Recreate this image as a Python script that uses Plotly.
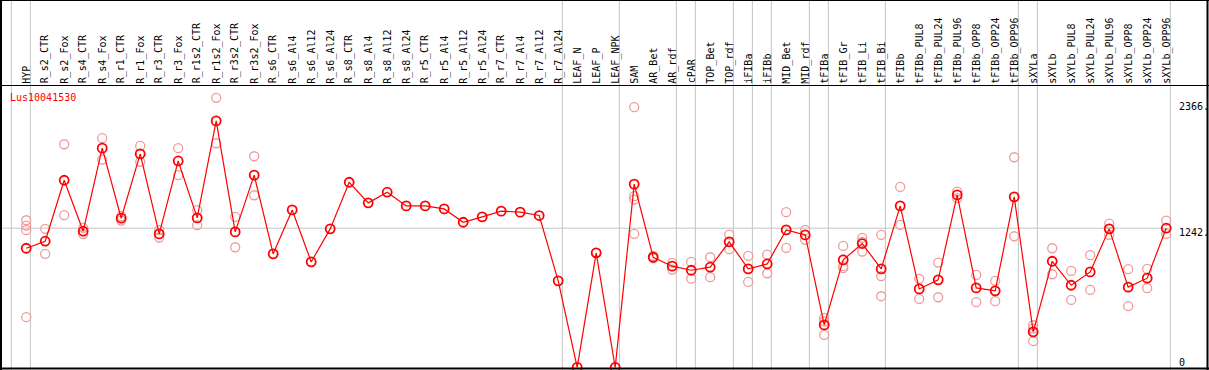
import plotly.graph_objects as go

# ---------------- data ----------------
categories = [
    "HYP", "R_s2_CTR", "R_s2_Fox", "R_s4_CTR", "R_s4_Fox", "R_r1_CTR", "R_r1_Fox",
    "R_r3_CTR", "R_r3_Fox", "R_r1s2_CTR", "R_r1s2_Fox", "R_r3s2_CTR", "R_r3s2_Fox",
    "R_s6_CTR", "R_s6_Al4", "R_s6_Al12", "R_s6_Al24", "R_s8_CTR", "R_s8_Al4",
    "R_s8_Al12", "R_s8_Al24", "R_r5_CTR", "R_r5_Al4", "R_r5_Al12", "R_r5_Al24",
    "R_r7_CTR", "R_r7_Al4", "R_r7_Al12", "R_r7_Al24", "LEAF_N", "LEAF_P", "LEAF_NPK",
    "SAM", "AR_Bet", "AR_rdf", "cPAR", "TOP_Bet", "TOP_rdf", "iFIBa", "iFIBb",
    "MID_Bet", "MID_rdf", "tFIBa", "tFIB_Gr", "tFIB_Li", "tFIB_Bi", "tFIBb",
    "tFIBb_PUL8", "tFIBb_PUL24", "tFIBb_PUL96", "tFIBb_OPP8", "tFIBb_OPP24",
    "tFIBb_OPP96", "sXYLa", "sXYLb", "sXYLb_PUL8", "sXYLb_PUL24", "sXYLb_PUL96",
    "sXYLb_OPP8", "sXYLb_OPP24", "sXYLb_OPP96",
]

mean_values = [
    1063, 1126, 1670, 1215, 1956, 1331, 1905, 1191, 1842, 1334, 2199, 1209, 1715,
    1013, 1405, 941, 1236, 1652, 1468, 1563, 1441, 1441, 1414, 1295, 1343,
    1394, 1385, 1355, 772, 0, 1022, 0,
    1635, 983, 903, 867, 894, 1120, 879, 923, 1227, 1182, 379, 959, 1105, 879, 1441,
    700, 781, 1539, 709, 683, 1521, 317, 947, 733, 852, 1236, 716, 796, 1242,
]

replicate_values = [
    [1313, 1265, 1224, 448], [1236, 1013], [1991, 1358], [1245, 1190], [2045, 1854],
    [1349, 1310], [1976, 1834], [1224, 1158], [1956, 1715], [1403, 1269],
    [2405, 2000], [1343, 1072], [1884, 1536],
    [], [], [], [], [], [], [], [], [], [], [], [], [], [], [], [], [], [], [],
    [2322, 1528, 1497, 1191], [995, 972], [932, 873, 905], [941, 792], [983, 805],
    [1185, 1055], [995, 763], [1006, 840], [1385, 1066], [1227, 1138],
    [442, 410, 290], [1084, 903, 885], [1155, 1120, 1033], [1182, 814, 635],
    [1610, 1271], [790, 611], [935, 626], [1569, 1510], [825, 582], [772, 591],
    [1875, 1170], [376, 346, 234], [1063, 831], [861, 602], [1001, 691],
    [1283, 1182, 1236], [876, 546], [879, 707], [1310, 1191],
]

group_ends = ["HYP", "R_r7_Al24", "LEAF_NPK", "AR_rdf", "cPAR", "TOP_rdf", "iFIBa",
              "iFIBb", "MID_rdf", "tFIBa", "tFIB_Bi", "tFIBb_OPP96", "sXYLa",
              "sXYLb_OPP96"]
reference_value = 1242
scale_labels = ["2366.", "1242.", "0"]
scale_values = [2366, 1242, 0]
gene_name = "Lus10041530"

# ---------------- layout geometry ----------------
W, H = 1209, 370
X0, DX = 26.2, 19.0        # pixel of first column and column pitch
Y0, KY = 367.4, 0.11208    # pixel of value 0, pixels per unit
x_range = [(0 - X0) / DX, (W - X0) / DX]
y_range = [(Y0 - H) / KY, Y0 / KY]
OFF = 0.22
HEADER_Y = 85.5

def py(p):
    return 1 - p / H

def px(p):
    return p / W

xs = list(range(len(categories)))
rep_x, rep_y = [], []
for i, reps in enumerate(replicate_values):
    for v in reps:
        rep_x.append(i)
        rep_y.append(v)

fig = go.Figure()
fig.add_trace(go.Scatter(
    x=rep_x, y=rep_y, mode="markers",
    marker=dict(symbol="circle-open", size=9, color="#f09a9a", line=dict(width=1.3)),
    hoverinfo="skip", showlegend=False,
))
fig.add_trace(go.Scatter(
    x=xs, y=mean_values, mode="lines+markers",
    line=dict(color="#ff0000", width=1.2),
    marker=dict(symbol="circle-open", size=9, color="#ff0000", line=dict(width=1.8)),
    hoverinfo="skip", showlegend=False,
))

shapes = []
grey = "#c4c4c4"
sep_positions = [-1] + [categories.index(c) for c in group_ends]
for s in sep_positions:
    shapes.append(dict(type="line", xref="x", yref="paper", x0=s + OFF, x1=s + OFF,
                       y0=0, y1=1, line=dict(color=grey, width=1), layer="below"))
shapes.append(dict(type="line", xref="x", yref="y", x0=x_range[0],
                   x1=sep_positions[-1] + OFF, y0=reference_value, y1=reference_value,
                   line=dict(color=grey, width=1), layer="below"))
shapes.append(dict(type="line", xref="paper", yref="paper", x0=0, x1=1,
                   y0=py(HEADER_Y), y1=py(HEADER_Y), line=dict(color="black", width=1.2)))
shapes.append(dict(type="line", xref="paper", yref="paper", x0=0, x1=1,
                   y0=py(0.5), y1=py(0.5), line=dict(color="black", width=1.2)))
shapes.append(dict(type="line", xref="paper", yref="paper", x0=0, x1=1,
                   y0=py(368.6), y1=py(368.6), line=dict(color="black", width=2)))
shapes.append(dict(type="line", xref="paper", yref="paper", x0=px(1), x1=px(1),
                   y0=0, y1=1, line=dict(color="black", width=2)))
shapes.append(dict(type="line", xref="paper", yref="paper", x0=px(1207.5), x1=px(1207.5),
                   y0=0, y1=1, line=dict(color="black", width=2)))

mono = "DejaVu Sans Mono"
annotations = []
for i, c in enumerate(categories):
    annotations.append(dict(x=i, y=py(HEADER_Y - 1), xref="x", yref="paper",
                            text=c, textangle=-90, showarrow=False,
                            xanchor="center", yanchor="bottom",
                            font=dict(family=mono, size=10, color="black"),
                            borderpad=0))
annotations.append(dict(x=px(8.5), y=py(97.5), xref="paper", yref="paper",
                        text=gene_name, showarrow=False, xanchor="left",
                        yanchor="middle", font=dict(family=mono, size=10, color="#ff0000"),
                        borderpad=0))
shifts = [-4, -4, 5]
for lab, val, sh in zip(scale_labels, scale_values, shifts):
    annotations.append(dict(x=px(1177.5), y=val, xref="paper", yref="y", text=lab,
                            showarrow=False, xanchor="left", yanchor="middle",
                            yshift=sh, font=dict(family=mono, size=10, color="black"),
                            borderpad=0))

fig.update_layout(
    width=W, height=H,
    margin=dict(l=0, r=0, t=0, b=0, pad=0),
    paper_bgcolor="white", plot_bgcolor="white",
    xaxis=dict(range=x_range, visible=False, fixedrange=True),
    yaxis=dict(range=y_range, visible=False, fixedrange=True),
    shapes=shapes, annotations=annotations,
    hovermode=False,
)

fig.write_html("out.html", config={"displayModeBar": False, "staticPlot": True},
               post_script="document.body.style.margin='0';document.body.style.overflow='hidden';")
